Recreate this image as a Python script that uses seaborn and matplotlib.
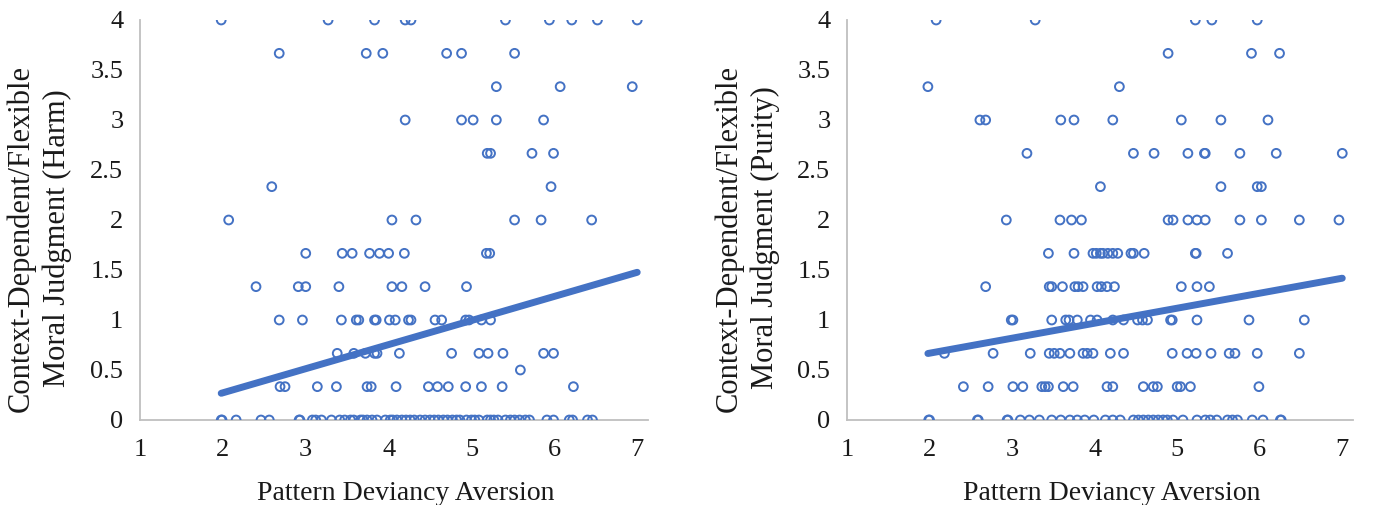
"""Two scatter panels: pattern deviancy aversion vs context-dependent moral judgment."""

import numpy as np
import pandas as pd
import matplotlib
import matplotlib.pyplot as plt
import seaborn as sns

matplotlib.use("Agg")

BLUE = "#4472C4"
AXIS_GREY = "#BFBFBF"
TEXT = "#1a1a1a"

# Harm panel: x values (Pattern Deviancy Aversion) for each judgment level
HARM_4_00 = [1.98, 3.27, 3.83, 4.20, 4.27, 5.41, 5.94, 6.21, 6.52, 7.00]
HARM_3_67 = [2.68, 3.73, 3.93, 4.70, 4.88, 5.52]
HARM_3_33 = [5.30, 6.07, 6.94]
HARM_3_00 = [4.20, 4.88, 5.02, 5.30, 5.87]
HARM_2_67 = [5.19, 5.23, 5.73, 5.99]
HARM_2_33 = [2.59, 5.96]
HARM_2_00 = [2.07, 4.04, 4.33, 5.52, 5.84, 6.45]
HARM_1_67 = [3.00, 3.44, 3.56, 3.77, 3.89, 4.00, 4.19, 5.18, 5.22]
HARM_1_33 = [2.40, 2.91, 3.00, 3.40, 4.04, 4.16, 4.44, 4.94]
HARM_1_00 = [2.68, 2.96, 3.43, 3.61, 3.64, 3.83, 3.85, 4.01, 4.08, 4.24, 4.27,
             4.56, 4.64, 4.93, 4.97, 5.12, 5.23]
HARM_0_67 = [3.38, 3.58, 3.72, 3.83, 3.86, 4.13, 4.76, 5.09, 5.20, 5.38, 5.87, 5.99]
HARM_0_50 = [5.59]
HARM_0_33 = [2.69, 2.75, 3.14, 3.37, 3.74, 3.79, 4.09, 4.48, 4.59, 4.72, 4.93,
             5.12, 5.37, 6.23]
HARM_0_00 = [1.98, 1.99, 2.16, 2.46, 2.56, 2.92, 2.93, 3.08, 3.12, 3.19, 3.31,
             3.41, 3.47, 3.54, 3.58, 3.66, 3.69, 3.74, 3.80, 3.86, 3.96, 4.02,
             4.05, 4.10, 4.16, 4.21, 4.26, 4.31, 4.38, 4.44, 4.50, 4.55, 4.60,
             4.66, 4.71, 4.77, 4.82, 4.86, 4.94, 5.00, 5.04, 5.09, 5.19, 5.23,
             5.27, 5.32, 5.41, 5.47, 5.52, 5.58, 5.65, 5.70, 5.91, 5.99, 6.18,
             6.22, 6.40, 6.46]

# Purity panel
PUR_4_00 = [2.08, 3.28, 5.22, 5.42, 5.97]
PUR_3_67 = [4.89, 5.90, 6.24]
PUR_3_33 = [1.98, 4.30]
PUR_3_00 = [2.61, 2.68, 3.59, 3.75, 4.22, 5.05, 5.53, 6.10]
PUR_2_67 = [3.18, 4.47, 4.72, 5.13, 5.33, 5.34, 5.76, 6.20, 7.00]
PUR_2_33 = [4.07, 5.53, 5.97, 6.02]
PUR_2_00 = [2.93, 3.58, 3.72, 3.84, 4.89, 4.95, 5.13, 5.24, 5.34, 5.76, 6.02,
            6.48, 6.96]
PUR_1_67 = [3.44, 3.75, 3.98, 4.02, 4.07, 4.10, 4.16, 4.22, 4.28, 4.44, 4.47,
            4.60, 5.22, 5.23, 5.61]
PUR_1_33 = [2.68, 3.45, 3.48, 3.61, 3.76, 3.80, 3.86, 4.03, 4.08, 4.15, 4.24,
            5.05, 5.24, 5.39]
PUR_1_00 = [2.99, 3.01, 3.48, 3.65, 3.69, 3.79, 3.95, 4.03, 4.22, 4.35, 4.52,
            4.58, 4.64, 4.92, 4.94, 5.24, 5.87, 6.54]
PUR_0_67 = [2.18, 2.77, 3.22, 3.45, 3.51, 3.58, 3.70, 3.86, 3.91, 3.98, 4.19,
            4.35, 4.94, 5.12, 5.23, 5.41, 5.63, 5.70, 5.97, 6.48]
PUR_0_33 = [2.41, 2.71, 3.01, 3.13, 3.36, 3.40, 3.44, 3.62, 3.74, 4.15, 4.22,
            4.59, 4.71, 4.76, 5.00, 5.04, 5.16, 5.99]
PUR_0_00 = [1.99, 2.00, 2.58, 2.59, 2.94, 2.95, 3.10, 3.21, 3.33, 3.48, 3.59,
            3.70, 3.79, 3.88, 3.99, 4.13, 4.22, 4.31, 4.47, 4.53, 4.59, 4.65,
            4.71, 4.77, 4.83, 4.88, 4.95, 5.07, 5.24, 5.34, 5.40, 5.48, 5.61,
            5.67, 5.73, 5.91, 6.04, 6.25, 6.26]

HARM_LEVELS = {4.0: HARM_4_00, 11 / 3: HARM_3_67, 10 / 3: HARM_3_33, 3.0: HARM_3_00,
               8 / 3: HARM_2_67, 7 / 3: HARM_2_33, 2.0: HARM_2_00, 5 / 3: HARM_1_67,
               4 / 3: HARM_1_33, 1.0: HARM_1_00, 2 / 3: HARM_0_67, 0.5: HARM_0_50,
               1 / 3: HARM_0_33, 0.0: HARM_0_00}
PUR_LEVELS = {4.0: PUR_4_00, 11 / 3: PUR_3_67, 10 / 3: PUR_3_33, 3.0: PUR_3_00,
              8 / 3: PUR_2_67, 7 / 3: PUR_2_33, 2.0: PUR_2_00, 5 / 3: PUR_1_67,
              4 / 3: PUR_1_33, 1.0: PUR_1_00, 2 / 3: PUR_0_67, 1 / 3: PUR_0_33,
              0.0: PUR_0_00}

# linear trendlines: (intercept, slope)
HARM_TREND = (-0.210, 0.241)
PUR_TREND = (0.368, 0.150)

X_TICKS = [1, 2, 3, 4, 5, 6, 7]
Y_TICKS = [0, 0.5, 1, 1.5, 2, 2.5, 3, 3.5, 4]
Y_TICK_LABELS = ["0", "0.5", "1", "1.5", "2", "2.5", "3", "3.5", "4"]
X_LABEL = "Pattern Deviancy Aversion"
Y_LABELS = ["Context-Dependent/Flexible\nMoral Judgment (Harm)",
            "Context-Dependent/Flexible\nMoral Judgment (Purity)"]


def build_frame(levels: dict) -> pd.DataFrame:
    rows = [(x, y) for y, xs in levels.items() for x in xs]
    return pd.DataFrame(rows, columns=["pda", "judgment"])


def trend_frame(df: pd.DataFrame, trend: tuple) -> pd.DataFrame:
    xs = np.array([df["pda"].min(), df["pda"].max()])
    return pd.DataFrame({"pda": xs, "judgment": trend[0] + trend[1] * xs})


def draw_panel(ax: plt.Axes, df: pd.DataFrame, trend: tuple, ylabel: str) -> None:
    sns.scatterplot(data=df, x="pda", y="judgment", ax=ax, s=40,
                    facecolors="none", edgecolors=BLUE, linewidth=1.4, zorder=3)
    sns.lineplot(data=trend_frame(df, trend), x="pda", y="judgment", ax=ax,
                 color=BLUE, lw=5, solid_capstyle="round", zorder=4)
    ax.set_xlim(1, 7.13)
    ax.set_ylim(0, 4)
    ax.set_xticks(X_TICKS)
    ax.set_xticklabels([str(t) for t in X_TICKS])
    ax.set_yticks(Y_TICKS)
    ax.set_yticklabels(Y_TICK_LABELS)
    ax.tick_params(axis="both", length=0, labelsize=19, colors=TEXT)
    ax.tick_params(axis="x", pad=14)
    ax.tick_params(axis="y", pad=12)
    for side in ["top", "right"]:
        ax.spines[side].set_visible(False)
    for side in ["left", "bottom"]:
        ax.spines[side].set_color(AXIS_GREY)
        ax.spines[side].set_linewidth(1.3)
    ax.set_xlabel(X_LABEL, fontsize=20, color=TEXT)
    ax.xaxis.set_label_coords(0.524, -0.152)
    ax.set_ylabel(ylabel, fontsize=22, color=TEXT, linespacing=1.3)
    ax.yaxis.set_label_coords(-0.133, 0.455)
    ax.grid(False)


def main() -> None:
    sns.set_theme(style="white")
    plt.rcParams["font.family"] = ["Liberation Serif", "DejaVu Serif"]

    fig = plt.figure(figsize=(13.81, 5.05), dpi=100)
    ax_harm = fig.add_axes([140 / 1381, 85 / 505, 508 / 1381, 400 / 505])
    ax_pur = fig.add_axes([847 / 1381, 85 / 505, 506 / 1381, 400 / 505])

    draw_panel(ax_harm, build_frame(HARM_LEVELS), HARM_TREND, Y_LABELS[0])
    draw_panel(ax_pur, build_frame(PUR_LEVELS), PUR_TREND, Y_LABELS[1])

    fig.savefig("out.png", dpi=100)
    plt.close(fig)


if __name__ == "__main__":
    main()
